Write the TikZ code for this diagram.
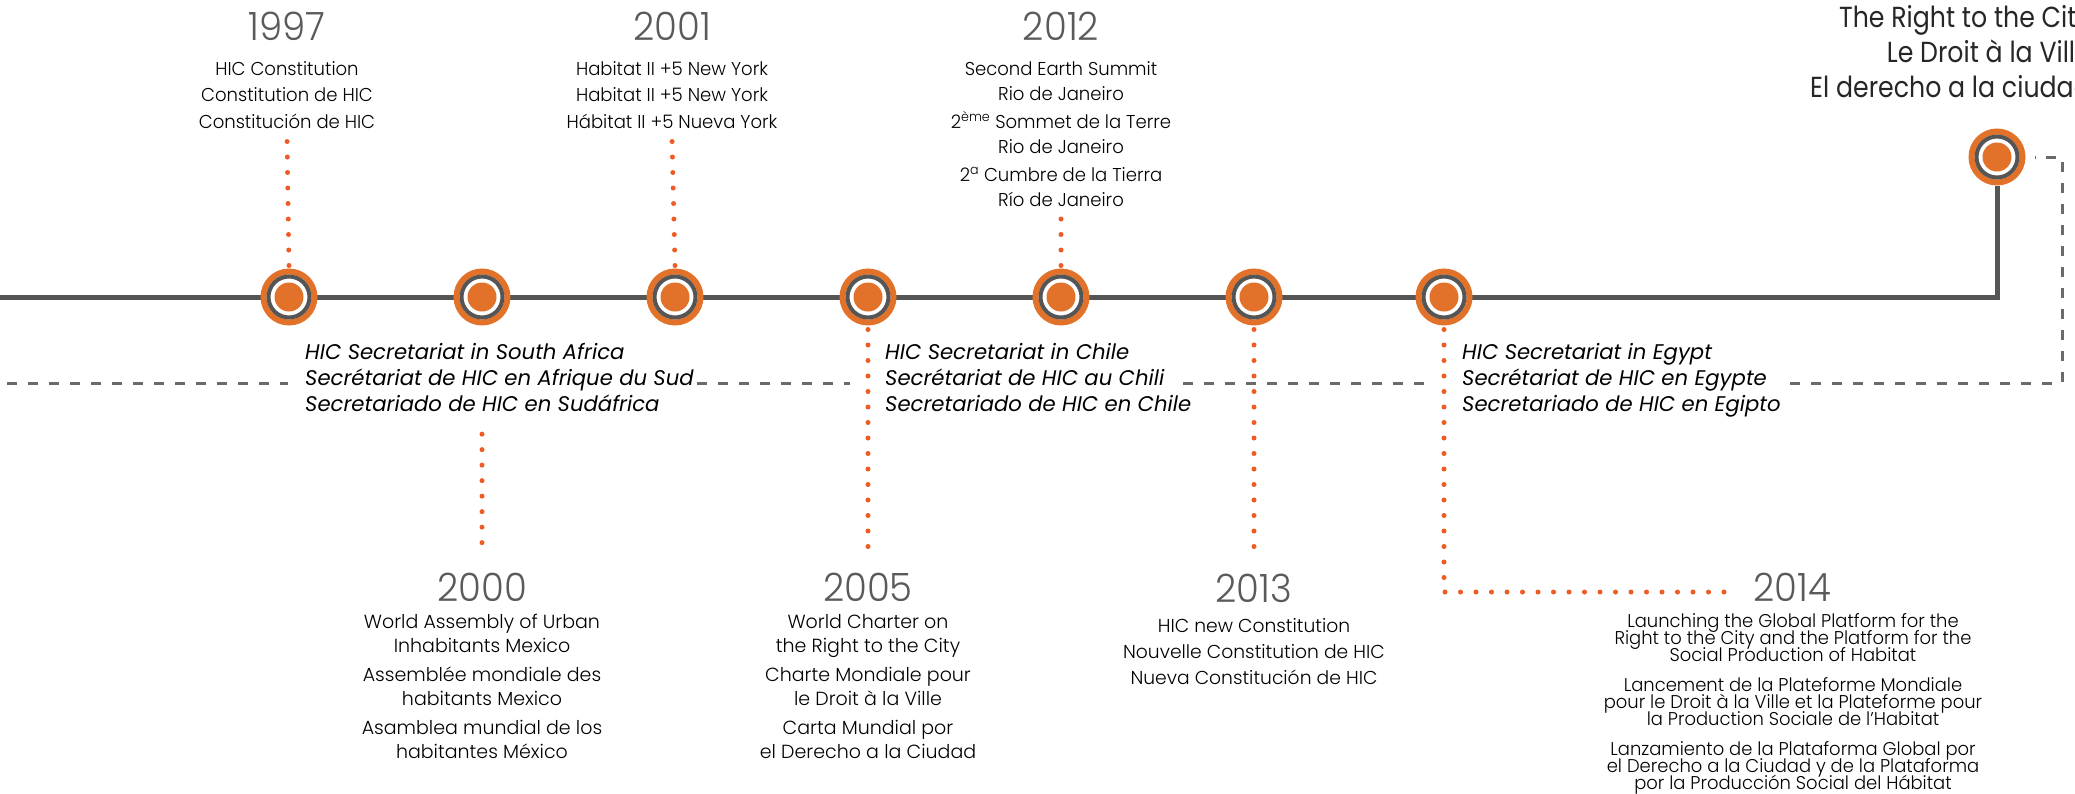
\documentclass[tikz,border=0pt]{standalone}
\usepackage{fontspec}
\setmainfont{Poppins}
\IfFontExistsTF{Poppins Light}{\newcommand\bodyfam{Poppins Light}}{\newcommand\bodyfam{Poppins}}
\newfontfamily\upfont[FakeStretch=0.97]{\bodyfam}
\newfontfamily\lowfont[FakeStretch=1.0]{\bodyfam}
\newfontfamily\midfont[FakeStretch=1.0]{\bodyfam}
\newfontfamily\tinyfont[FakeStretch=0.97]{\bodyfam}
\newfontfamily\rightfont[FakeStretch=0.87]{Poppins}
\newfontfamily\yearfont[FakeStretch=0.95,Numbers=Monospaced]{\bodyfam}
\usetikzlibrary{backgrounds}
\definecolor{hicorange}{HTML}{E27129}
\definecolor{hicdot}{HTML}{EE5B25}
\definecolor{hicgray}{HTML}{555555}
\definecolor{dashgray}{HTML}{6A6A6A}
\definecolor{yeargray}{HTML}{5A5A5A}
\tikzset{
  ringout/.style={circle,draw=hicorange,line width=6,fill=white,minimum size=51,inner sep=0},
  ringin/.style={circle,draw=hicgray,line width=4,minimum size=41,inner sep=0},
  core/.style={circle,fill=hicorange,minimum size=29,inner sep=0},
  mainline/.style={hicgray,line width=5},
  dashline/.style={dashgray,line width=3,dash pattern=on 10 off 11},
  dotline/.style={hicdot,line width=5,line cap=round,dash pattern=on 0 off 15.5},
  year/.style={yeargray,font=\yearfont\fontsize{39}{39}\selectfont,inner sep=0},
  uptext/.style={align=center,anchor=north,inner sep=0,font=\upfont\fontsize{18.6}{26.5}\selectfont},
  lowtext/.style={align=center,anchor=north,inner sep=0,font=\lowfont\fontsize{19}{24}\selectfont},
  newtext/.style={align=center,anchor=north,inner sep=0,font=\midfont\fontsize{18.7}{26}\selectfont},
  smalltext/.style={align=center,anchor=north,inner sep=0,font=\tinyfont\fontsize{18.5}{17}\selectfont},
  secr/.style={anchor=mid west,inner sep=0,font=\itshape\fontsize{21.2}{26}\selectfont},
  rightto/.style={align=right,anchor=north east,inner sep=0,text=black!85,font=\rightfont\fontsize{29}{35}\selectfont}
}
\begin{document}
\lineskiplimit=-100pt
\begin{tikzpicture}[x=1pt,y=-1pt]
\useasboundingbox (0,0) rectangle (2075,793);
\clip (0,0) rectangle (2075,793);
% markers on the line
\foreach \n/\x/\y in {m97/289/297,m00/482/297,m01/675/297,m05/868/297,m12/1061/297,m13/1254/297,m14/1444/297,mtop/1997/157}{
  \node[ringout] (\n) at (\x,\y) {};
  \node[ringin] at (\n) {};
  \node[core] at (\n) {};
}
\coordinate (lstart) at (0,297);
\begin{pgfonlayer}{background}
\draw[mainline] (lstart) -| (mtop);
\end{pgfonlayer}
% years above
\node[year] (y97) at (287,26) {1997};
\node[uptext] (t97) at (287,61) {HIC Constitution\\Constitution de HIC\\Constitución de HIC};
\node[year] (y01) at (672,26) {2001};
\node[uptext] (t01) at (672,61) {Habitat II +5 New York\\Habitat II +5 New York\\Hábitat II +5 Nueva York};
\node[year] (y12) at (1061,26) {2012};
\node[uptext,font=\upfont\fontsize{18.6}{25}\selectfont] (t12) at (1061,61) {Second Earth Summit\\Rio de Janeiro\\[3pt]2\textsuperscript{ème} Sommet de la Terre\\Rio de Janeiro\\[3pt]2\textsuperscript{a} Cumbre de la Tierra\\Río de Janeiro};
\node[rightto] (rtc) at (2091,5) {The Right to the City\\Le Droit à la Ville\\El derecho a la ciudad};
% secretariats
\node[secr] (sa1) at (305,357) {HIC Secretariat in South Africa};
\node[secr] (sa2) at (305,383) {Secrétariat de HIC en Afrique du Sud};
\node[secr] (sa3) at (305,409) {Secretariado de HIC en Sudáfrica};
\node[secr] (cl1) at (885,357) {HIC Secretariat in Chile};
\node[secr] (cl2) at (885,383) {Secrétariat de HIC au Chili};
\node[secr] (cl3) at (885,409) {Secretariado de HIC en Chile};
\node[secr] (eg1) at (1462,357) {HIC Secretariat in Egypt};
\node[secr] (eg2) at (1462,383) {Secrétariat de HIC en Egypte};
\node[secr] (eg3) at (1462,409) {Secretariado de HIC en Egipto};
% years below
\node[year] (y00) at (482,587) {2000};
\node[lowtext] (t00) at (482,614) {World Assembly of Urban\\Inhabitants Mexico\\[5pt]Assemblée mondiale des\\habitants Mexico\\[5pt]Asamblea mundial de los\\habitantes México};
\node[year] (y05) at (868,587) {2005};
\node[lowtext] (t05) at (868,614) {World Charter on\\the Right to the City\\[5pt]Charte Mondiale pour\\le Droit à la Ville\\[5pt]Carta Mundial por\\el Derecho a la Ciudad};
\node[year] (y13) at (1254,588) {2013};
\node[newtext] (t13) at (1254,618) {HIC new Constitution\\Nouvelle Constitution de HIC\\Nueva Constitución de HIC};
\node[year] (y14) at (1792,587) {2014};
\node[smalltext] (t14) at (1793,613) {Launching the Global Platform for the\\Right to the City and the Platform for the\\Social Production of Habitat\\[13pt]Lancement de la Plateforme Mondiale\\pour le Droit à la Ville et la Plateforme pour\\la Production Sociale de l’Habitat\\[13pt]Lanzamiento de la Plataforma Global por\\el Derecho a la Ciudad y de la Plataforma\\por la Producción Social del Hábitat};
% dashed thread
\coordinate (dstart) at (7,383);
\coordinate (dend) at (2062,157);
\draw[dashline] (dstart) -- ([xshift=-17]sa2.mid west);
\draw[dashline] ([xshift=3]sa2.mid east) -- ([xshift=-35]cl2.mid west);
\draw[dashline] ([xshift=19]cl2.mid east) -- ([xshift=-29]eg2.mid west);
\draw[dashline] ([xshift=23]eg2.mid east) -- (dend |- eg2.mid) -- (dend) -- ([xshift=9]mtop.east);
% dotted leaders
\draw[dotline] ([yshift=3]m97.north) -- ([yshift=-9]t97.south);
\draw[dotline] ([yshift=3]m01.north) -- ([yshift=-9]t01.south);
\draw[dotline] ([yshift=3]m12.north) -- ([yshift=-9]t12.south);
\draw[dotline] ([yshift=-22]sa3.south -| m00) -- ([yshift=19]y00.north);
\draw[dotline] ([yshift=-4]m05.south) -- ([yshift=19]y05.north);
\draw[dotline] ([yshift=-4]m13.south) -- ([yshift=19]y13.north);
\draw[dotline] ([yshift=-4]m14.south) -- ([yshift=-5]m14.south |- y14) -- ([xshift=-15,yshift=-5]y14.west);
\end{tikzpicture}
\end{document}
